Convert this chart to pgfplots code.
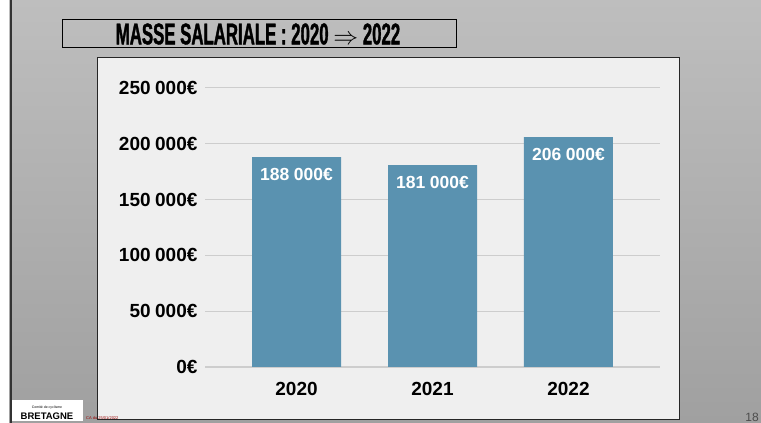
\documentclass[border=0pt]{standalone}
\usepackage{pgfplots}
\pgfplotsset{compat=1.18}
\usepackage{fontspec}
\setmainfont{Liberation Sans}
\newfontfamily\titlefont[FakeStretch=0.56, FakeBold=1.2]{Liberation Sans}
\definecolor{barblue}{RGB}{90,146,176}
\definecolor{panelbg}{RGB}{239,239,239}
\definecolor{gridc}{RGB}{205,205,205}
\definecolor{baseline}{RGB}{150,150,150}
\begin{document}
\begin{tikzpicture}[x=1pt,y=1pt]
% slide background
\useasboundingbox (0,0) rectangle (761,423);
\fill[white] (0,0) rectangle (761,423);
\shade[top color={rgb,255:red,190;green,190;blue,190}, bottom color={rgb,255:red,160;green,160;blue,160}] (9,0) rectangle (761,423);
\fill[black!80] (9.5,0) rectangle (11.5,423);
% title box
\draw[black, line width=1pt] (62,375) rectangle (456,403);
\node[anchor=center, inner sep=0pt] at (258,389) {\titlefont\bfseries\fontsize{30}{30}\selectfont MASSE SALARIALE : 2020 {\fontsize{27}{27}\selectfont$\Rightarrow$} 2022};
% chart panel
\draw[black!85, fill=panelbg, line width=1pt] (97,3) rectangle (679,365);
% logo
\fill[white] (12,2) rectangle (83,23);
\node[anchor=south, inner sep=0pt] at (47,3.5) {\bfseries\fontsize{9.5}{9.5}\selectfont BRETAGNE};
\node[anchor=south, inner sep=0pt] at (47,14) {\fontsize{3.5}{3.5}\selectfont Comit\'e de cyclisme};
\node[anchor=south west, inner sep=0pt, text=red!60!black] at (86,3) {\fontsize{4}{4}\selectfont CA du 25/01/2022};
\node[anchor=south, inner sep=0pt, text=black!70] at (752,1) {\fontsize{12}{12}\selectfont 18};
\begin{axis}[
  at={(205pt,56pt)}, anchor=south west,
  scale only axis, width=455pt, height=279pt,
  xmin=-0.673, xmax=2.673, ymin=0, ymax=250000,
  axis line style={draw=none},
  scaled y ticks=false,
  xtick={0,1,2}, xticklabels={2020,2021,2022},
  ytick={0,50000,100000,150000,200000,250000},
  yticklabels={0€,50\hspace{4.5pt}000€,100\hspace{4.5pt}000€,150\hspace{4.5pt}000€,200\hspace{4.5pt}000€,250\hspace{4.5pt}000€},
  major tick length=0pt,
  ymajorgrids, grid style={gridc, line width=1pt},
  extra y ticks={0}, extra y tick labels={},
  extra y tick style={grid style={baseline, line width=1.2pt}},
  tick label style={font=\bfseries\fontsize{19}{19}\selectfont, text=black},
  yticklabel style={xshift=-4pt},
  xticklabel style={yshift=-12pt},
  /pgf/number format/assume math mode=true,
  clip=false,
]
\addplot[ybar, bar width=89pt, fill=barblue, draw=none,
  point meta=explicit symbolic,
  nodes near coords,
  nodes near coords style={anchor=north, yshift=-8pt, text=white, font=\bfseries\fontsize{17.5}{17.5}\selectfont},
] table[meta=lab] {
x y lab
0 188000 188\hspace{4.5pt}000€
1 181000 181\hspace{4.5pt}000€
2 206000 206\hspace{4.5pt}000€
};
\end{axis}
\end{tikzpicture}
\end{document}
